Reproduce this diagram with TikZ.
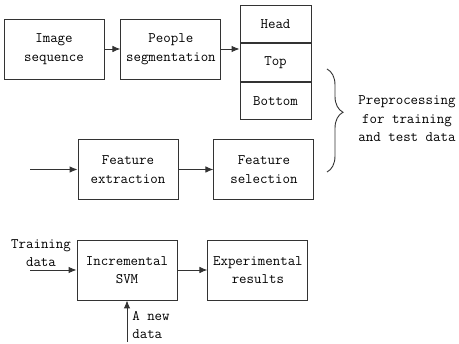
\documentclass[tikz,border=0pt]{standalone}
\usepackage{fontspec}
\usetikzlibrary{positioning}
\usetikzlibrary{decorations.pathreplacing}
\usetikzlibrary{arrows.meta}

\begin{document}
\begin{tikzpicture}[x=1pt, y=-1pt, box/.style={rectangle, draw=black!80, line width=0.9pt, minimum width=100pt, minimum height=60pt, align=center, inner sep=0pt}, part/.style={rectangle, draw=black!80, line width=0.9pt, minimum width=71pt, minimum height=37.5pt, inner sep=0pt}, link/.style={draw=black!80, line width=0.9pt, ->}, >={Latex[length=8pt,width=6.5pt]}, node distance=16pt, font=\ttfamily\fontsize{14.5}{18.5}\selectfont]
            \useasboundingbox (0,0) rectangle (459,344);
            \node[box]    (image)      at (54,49) {Image\\sequence};
            \node[box]    (people)     [right=of image] {People\\segmentation};
            \node[part]   (head)       at (275.5,24) {Head};
            \node[part]   (top)        [below=0pt of head] {Top};
            \node[part]   (bottom)     [below=0pt of top] {Bottom};

            \node[box]    (extract)    at (128,169.5) {Feature\\extraction};
            \node[box]    (select)     [right=35pt of extract] {Feature\\selection};
            \coordinate   (featin)     at (30,169.5);

            \node[box]    (svm)        at (127,270) {Incremental\\SVM};
            \node[box]    (results)    [right=30pt of svm] {Experimental\\results};
            \coordinate   (trainin)    at (30,270);
            \node[align=center, inner sep=0pt] (train) at (41,253) {Training\\data};
            \coordinate   (newin)      at (127,342);
            \node[align=left] (newdata) at (151,325) {A new\\data};

            \draw[line width=0.9pt, black!80, decorate, decoration={brace, amplitude=16pt, aspect=0.42}] (327,69) -- (327,172);
            \node[align=center] (prep) at (407,119) {Preprocessing\\for training\\and test data};

            \path(image) edge[link] (people);
            \path(people.east) edge[link] (people.east -| top.west);
            \path(featin) edge[link] (extract);
            \path(extract) edge[link] (select);
            \path(trainin) edge[link] (svm);
            \path(svm) edge[link] (results);
            \path(newin) edge[link] (newin |- svm.south);
        \end{tikzpicture}
\end{document}
